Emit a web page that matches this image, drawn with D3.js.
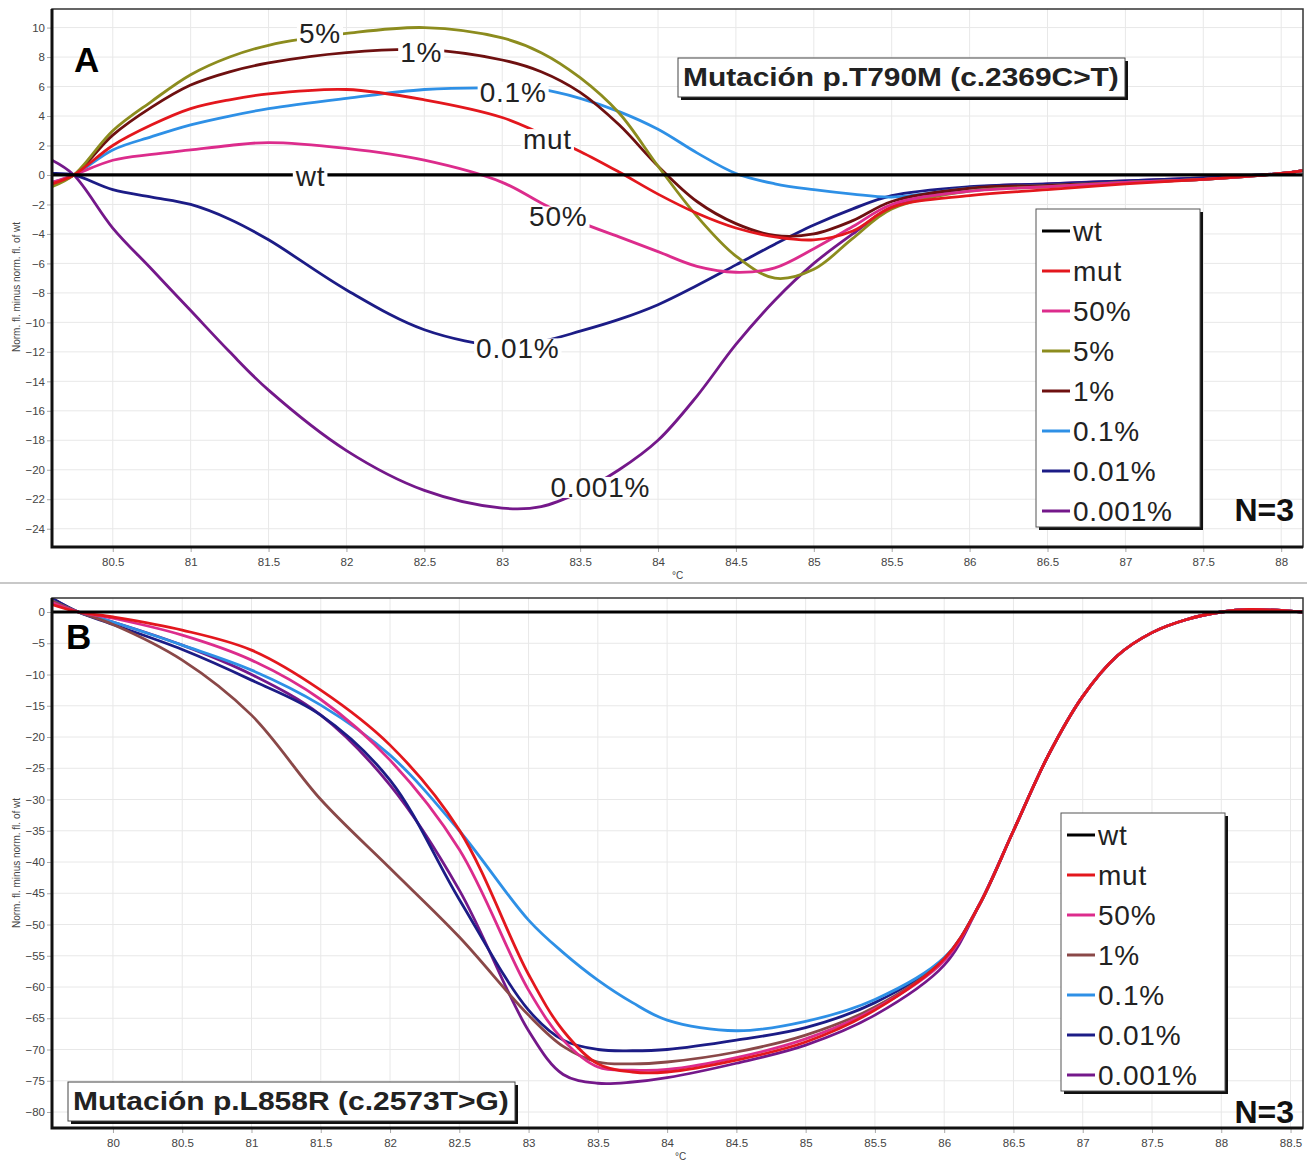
<!DOCTYPE html>
<html>
<head>
<meta charset="utf-8">
<script src="https://cdn.jsdelivr.net/npm/d3@7"></script>
<style>
  body { margin: 0; background: #fff; }
  svg { display: block; }
</style>
</head>
<body>
<div id="chart"></div>
<script>
// ---- data: panel A (T790M) ----
const tempsA = [80.11, 80.25, 80.5, 80.75, 81, 81.25, 81.5, 82, 82.5, 83, 83.25, 83.5, 83.75,
  84, 84.25, 84.5, 84.75, 85, 85.25, 85.5, 86, 86.5, 87, 87.5, 88, 88.14];
const aWt   = tempsA.map(() => 0);
const aMut  = [-0.6, 0, 2.0, 3.4, 4.5, 5.1, 5.5, 5.8, 5.1, 3.9, 2.8, 1.6, 0.2, -1.3, -2.6, -3.6, -4.2, -4.4, -3.8, -2.2, -1.4, -1.0, -0.6, -0.3, 0.1, 0.3];
const a50   = [-0.5, 0, 1.0, 1.4, 1.7, 2.0, 2.2, 1.8, 1.0, -0.5, -1.9, -3.2, -4.2, -5.2, -6.2, -6.6, -6.3, -5.0, -3.5, -2.0, -1.1, -0.8, -0.5, -0.3, 0.1, 0.3];
const a5    = [-0.8, 0, 3.0, 5.0, 6.8, 8.0, 8.8, 9.6, 10.0, 9.3, 8.3, 6.6, 4.2, 0.6, -2.8, -5.5, -7.0, -6.4, -4.3, -2.3, -1.1, -0.8, -0.5, -0.3, 0.1, 0.3];
const a1    = [-0.6, 0, 2.7, 4.6, 6.1, 7.0, 7.6, 8.3, 8.5, 7.8, 7.0, 5.6, 3.4, 0.6, -1.8, -3.3, -4.1, -4.0, -3.1, -1.8, -0.9, -0.7, -0.5, -0.3, 0.1, 0.3];
const a01   = [-0.5, 0, 1.7, 2.6, 3.4, 4.0, 4.5, 5.2, 5.8, 5.9, 5.8, 5.2, 4.3, 3.1, 1.5, 0.1, -0.6, -1.0, -1.3, -1.5, -0.9, -0.7, -0.5, -0.3, 0.1, 0.3];
const a001  = [0.1, 0, -1.0, -1.5, -2.0, -3.0, -4.4, -7.8, -10.5, -11.6, -11.3, -10.6, -9.8, -8.8, -7.5, -6.1, -4.7, -3.4, -2.3, -1.4, -0.8, -0.6, -0.4, -0.2, 0.1, 0.3];
const a0001 = [1.0, 0, -3.6, -6.4, -9.2, -12.0, -14.6, -18.7, -21.4, -22.6, -22.5, -21.5, -20.0, -18.0, -15.0, -11.5, -8.5, -6.0, -4.0, -2.2, -0.9, -0.6, -0.4, -0.2, 0.1, 0.3];
const xTicksA = [80.5, 81, 81.5, 82, 82.5, 83, 83.5, 84, 84.5, 85, 85.5, 86, 86.5, 87, 87.5, 88];
const yTicksA = [10, 8, 6, 4, 2, 0, -2, -4, -6, -8, -10, -12, -14, -16, -18, -20, -22, -24];

// ---- data: panel B (L858R) ----
const tempsB = [79.56, 79.75, 80, 80.5, 81, 81.5, 82, 82.5, 83, 83.25, 83.5, 83.75, 84, 84.5, 85, 85.5,
  86, 86.25, 86.5, 86.75, 87, 87.25, 87.5, 87.75, 88, 88.2, 88.59];
const tailB = [-47, -35, -23, -13.5, -7, -3.3, -1.2, 0, 0.4, 0];
const bWt   = tempsB.map(() => 0);
const bMut  = [1.2, 0, -0.8, -2.9, -6.1, -12.5, -21.3, -34.9, -58, -67, -72.3, -73.6, -73.6, -71.7, -68.8, -63.7, -55.5].concat(tailB);
const b50   = [1.5, 0, -1.0, -3.7, -7.7, -14, -23.7, -38, -60.5, -68.5, -72.8, -73.3, -73.2, -71.3, -68.3, -63.5, -55.8].concat(tailB);
const b1    = [1.8, 0, -2.0, -7.7, -16.5, -30, -41, -52, -64.5, -69.5, -72, -72.3, -72, -70.4, -67.7, -63.2, -55.5].concat(tailB);
const b01   = [1.8, 0, -1.6, -5.3, -9.3, -14.9, -22.9, -35, -49.3, -54.5, -58.9, -62.5, -65.3, -67, -65.5, -62, -55.3].concat(tailB);
const b001  = [2.2, 0, -2.0, -6.0, -10.9, -16.5, -26.9, -46, -63.7, -68.5, -70, -70.2, -70, -68.5, -66.5, -62.5, -55.5].concat(tailB);
const b0001 = [2.2, 0, -1.6, -5.3, -10, -16.5, -27.7, -44.5, -67, -74, -75.4, -75.2, -74.5, -72.2, -69.3, -64.5, -56.5].concat(tailB);
const xTicksB = [80, 80.5, 81, 81.5, 82, 82.5, 83, 83.5, 84, 84.5, 85, 85.5, 86, 86.5, 87, 87.5, 88, 88.5];
const yTicksB = [0, -5, -10, -15, -20, -25, -30, -35, -40, -45, -50, -55, -60, -65, -70, -75, -80];

const width = 1307, height = 1169;
const svg = d3.select("#chart").append("svg")
    .attr("width", width)
    .attr("height", height);

const axisFont = "'Liberation Sans Narrow', 'Arial Narrow', Arial, sans-serif";
const mainFont = "'Liberation Sans', Arial, sans-serif";

// separator between the two screens
svg.append("line")
  .attr("x1", 0).attr("x2", width).attr("y1", 583).attr("y2", 583)
  .attr("stroke", "#c8c8c8").attr("stroke-width", 2);

function drawPanel(p) {
  const x = d3.scaleLinear().domain(p.xDomain).range([p.left, p.right]);
  const y = d3.scaleLinear().domain(p.yDomain).range([p.bottom, p.top]);
  const g = svg.append("g");

  // grid
  g.append("g").selectAll("line").data(p.xTicks).join("line")
    .attr("x1", d => x(d)).attr("x2", d => x(d))
    .attr("y1", p.top).attr("y2", p.bottom)
    .attr("stroke", "#e8e8e8").attr("stroke-width", 1);
  g.append("g").selectAll("line").data(p.yTicks).join("line")
    .attr("x1", p.left).attr("x2", p.right)
    .attr("y1", d => y(d)).attr("y2", d => y(d))
    .attr("stroke", "#e8e8e8").attr("stroke-width", 1);

  // axes
  const yAxis = g.append("g")
    .attr("transform", `translate(${p.left},0)`)
    .call(d3.axisLeft(y).tickValues(p.yTicks).tickSize(5).tickPadding(2).tickFormat(d3.format("d")));
  const xAxis = g.append("g")
    .attr("transform", `translate(0,${p.bottom})`)
    .call(d3.axisBottom(x).tickValues(p.xTicks).tickSize(5).tickPadding(6).tickFormat(d => d));
  [yAxis, xAxis].forEach(a => {
    a.select(".domain").remove();
    a.selectAll(".tick line").attr("stroke", "#aaa");
    a.selectAll("text").attr("font-family", axisFont).attr("font-size", 11.5).attr("fill", "#444");
  });

  // lines
  const line = d3.line()
    .x((d, i) => x(p.temps[i]))
    .y(d => y(d))
    .curve(d3.curveCatmullRom.alpha(0.5));
  const clipId = "clip" + p.name;
  svg.append("clipPath").attr("id", clipId).append("rect")
    .attr("x", p.left).attr("y", p.top)
    .attr("width", p.right - p.left).attr("height", p.bottom - p.top);
  g.append("g").attr("clip-path", `url(#${clipId})`)
    .selectAll("path").data(p.series.slice().reverse()).join("path")
      .attr("d", d => line(d.values))
      .attr("fill", "none")
      .attr("stroke", d => d.color)
      .attr("stroke-width", d => d.key === "wt" ? 3.2 : 2.8);

  // frame
  g.append("rect")
    .attr("x", p.left).attr("y", p.top)
    .attr("width", p.right - p.left).attr("height", p.bottom - p.top)
    .attr("fill", "none").attr("stroke", "#333").attr("stroke-width", 1.5);
  g.append("path")
    .attr("d", `M${p.left},${p.top}V${p.bottom}H${p.right}`)
    .attr("fill", "none").attr("stroke", "#111").attr("stroke-width", 3);

  // axis titles
  g.append("text")
    .attr("transform", `translate(20,${p.yTitleY}) rotate(-90)`)
    .attr("text-anchor", "middle")
    .attr("font-family", "Arial, sans-serif").attr("font-size", 10).attr("fill", "#444")
    .text("Norm. fl. minus norm. fl. of wt");
  g.append("text")
    .attr("x", p.degX).attr("y", p.bottom + 32)
    .attr("font-family", "Arial, sans-serif").attr("font-size", 10).attr("fill", "#444")
    .text("°C");

  // panel letter
  g.append("text")
    .attr("x", p.letterX).attr("y", p.letterY)
    .attr("font-family", mainFont).attr("font-weight", "bold").attr("font-size", 35)
    .text(p.letter);

  // labels on curves (A only)
  (p.curveLabels || []).forEach(l => {
    const t = g.append("text")
      .attr("x", x(l.t)).attr("y", y(l.v))
      .attr("text-anchor", "middle").attr("dominant-baseline", "central")
      .attr("font-family", mainFont).attr("font-size", 28).attr("letter-spacing", 0.8)
      .attr("fill", "#222")
      .text(l.text);
    const bb = t.node().getBBox();
    g.insert("rect", () => t.node())
      .attr("x", bb.x - 2).attr("y", bb.y + 5)
      .attr("width", bb.width + 4).attr("height", bb.height - 10)
      .attr("fill", "#fff");
  });

  // title box (text stretched horizontally like the original)
  const tb = {x: p.titleX - 5, y: p.titleY - 19, w: 447, h: 39};
  g.append("rect")
    .attr("x", tb.x + 3).attr("y", tb.y + 3)
    .attr("width", tb.w).attr("height", tb.h)
    .attr("fill", "#111");
  g.append("rect")
    .attr("x", tb.x).attr("y", tb.y)
    .attr("width", tb.w).attr("height", tb.h)
    .attr("fill", "#fff").attr("stroke", "#444").attr("stroke-width", 1);
  const tt = g.append("text")
    .attr("font-family", mainFont).attr("font-weight", "bold").attr("font-size", 26)
    .attr("dominant-baseline", "central").attr("fill", "#222")
    .text(p.title);
  const tw = tt.node().getComputedTextLength();
  tt.attr("transform", `translate(${p.titleX},${p.titleY}) scale(${436 / tw},1)`);

  // legend
  const lg = g.append("g");
  const lh = p.series.length * 40 - 2;
  lg.append("rect")
    .attr("x", p.legX + 3).attr("y", p.legY + 3)
    .attr("width", 164).attr("height", lh)
    .attr("fill", "#111");
  lg.append("rect")
    .attr("x", p.legX).attr("y", p.legY)
    .attr("width", 164).attr("height", lh)
    .attr("fill", "#fff").attr("stroke", "#555").attr("stroke-width", 1);
  const item = lg.selectAll("g.item").data(p.series).join("g")
    .attr("class", "item")
    .attr("transform", (d, i) => `translate(${p.legX + 6},${p.legY + 22 + i * 40})`);
  item.append("line")
    .attr("x1", 0).attr("x2", 28)
    .attr("stroke", d => d.color).attr("stroke-width", 3);
  item.append("text")
    .attr("x", 31).attr("dominant-baseline", "central")
    .attr("font-family", mainFont).attr("font-size", 28).attr("letter-spacing", 0.8)
    .attr("fill", "#222")
    .text(d => d.key);

  g.append("text")
    .attr("x", p.right - 9).attr("y", p.nY)
    .attr("text-anchor", "end").attr("dominant-baseline", "central")
    .attr("font-family", mainFont).attr("font-weight", "bold").attr("font-size", 32)
    .attr("fill", "#111")
    .text("N=3");
}

drawPanel({
  name: "A", letter: "A", letterX: 74, letterY: 72,
  left: 52, right: 1303, top: 9, bottom: 547,
  xDomain: [80.11, 88.14], yDomain: [-25.24, 11.26],
  xTicks: xTicksA, yTicks: yTicksA, temps: tempsA,
  yTitleY: 287, degX: 672,
  series: [
    {key: "wt", color: "#000000", values: aWt},
    {key: "mut", color: "#e3171d", values: aMut},
    {key: "50%", color: "#dc2c8c", values: a50},
    {key: "5%", color: "#8c8c1e", values: a5},
    {key: "1%", color: "#6e1010", values: a1},
    {key: "0.1%", color: "#2e90e6", values: a01},
    {key: "0.01%", color: "#1c1c86", values: a001},
    {key: "0.001%", color: "#74188a", values: a0001}
  ],
  curveLabels: [
    {text: "5%", t: 81.83, v: 9.6},
    {text: "1%", t: 82.48, v: 8.3},
    {text: "0.1%", t: 83.07, v: 5.6},
    {text: "mut", t: 83.29, v: 2.4},
    {text: "wt", t: 81.77, v: -0.1},
    {text: "50%", t: 83.36, v: -2.85},
    {text: "0.01%", t: 83.1, v: -11.8},
    {text: "0.001%", t: 83.63, v: -21.2}
  ],
  title: "Mutación p.T790M (c.2369C>T)", titleX: 683, titleY: 77,
  legX: 1036, legY: 209, nY: 510
});

drawPanel({
  name: "B", letter: "B", letterX: 66, letterY: 649,
  left: 52, right: 1303, top: 598, bottom: 1128,
  xDomain: [79.56, 88.59], yDomain: [-82.56, 2.24],
  xTicks: xTicksB, yTicks: yTicksB, temps: tempsB,
  yTitleY: 863, degX: 675,
  series: [
    {key: "wt", color: "#000000", values: bWt},
    {key: "mut", color: "#e3171d", values: bMut},
    {key: "50%", color: "#dc2c8c", values: b50},
    {key: "1%", color: "#8a4848", values: b1},
    {key: "0.1%", color: "#2e90e6", values: b01},
    {key: "0.01%", color: "#1c1c86", values: b001},
    {key: "0.001%", color: "#74188a", values: b0001}
  ],
  title: "Mutación p.L858R (c.2573T>G)", titleX: 73, titleY: 1101,
  legX: 1061, legY: 813, nY: 1112
});
</script>
</body>
</html>
